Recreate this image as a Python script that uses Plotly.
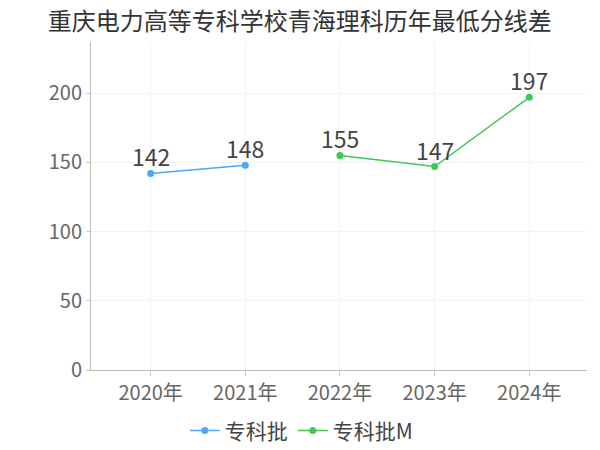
import plotly.graph_objects as go

years = ["2020年", "2021年", "2022年", "2023年", "2024年"]
s1_name = "专科批"
s1_vals = [142, 148, None, None, None]
s2_name = "专科批M"
s2_vals = [None, None, 155, 147, 197]

FONT = "Noto Sans CJK SC"
fig = go.Figure()
for name, vals, color in [(s1_name, s1_vals, "#4aa8f7"), (s2_name, s2_vals, "#3dc75a")]:
    fig.add_trace(go.Scatter(x=years, y=vals, name=name, mode="lines+markers",
                             line=dict(color=color, width=1.5), marker=dict(size=7, color=color)))
    for x, v in zip(years, vals):
        if v is not None:
            fig.add_annotation(x=x, y=v, text=str(v), showarrow=False, yanchor="bottom", yshift=-2,
                               font=dict(size=23, color="#444", family=FONT))

fig.update_layout(
    width=592, height=442,
    title=dict(text="重庆电力高等专科学校青海理科历年最低分线差", x=0.493, xanchor="center", y=0.97, yanchor="middle",
               font=dict(size=24, color="#333", family=FONT)),
    font=dict(family=FONT, color="#666"),
    plot_bgcolor="white", paper_bgcolor="white",
    margin=dict(l=83, r=13, t=34, b=80, autoexpand=False),
    showlegend=True,
    legend=dict(orientation="h", x=0.425, xanchor="center", y=-0.123, yanchor="top",
                font=dict(size=21, color="#444"), itemwidth=30, tracegroupgap=0),
    xaxis=dict(type="category", range=[-0.63, 4.61], showline=True, linecolor="#bbb", automargin=False,
               ticks="outside", ticklen=5, tickcolor="#ccc", showgrid=True, gridcolor="#f3f3f3",
               tickfont=dict(size=20, color="#666")),
    yaxis=dict(range=[0, 237], tickvals=[0, 50, 100, 150, 200], showline=True, linecolor="#bbb", automargin=False,
               ticks="outside", ticklen=4, tickcolor="#ccc", showgrid=True, gridcolor="#f3f3f3",
               zeroline=False, tickfont=dict(size=20, color="#666")),
)
fig.write_html("out.html")
